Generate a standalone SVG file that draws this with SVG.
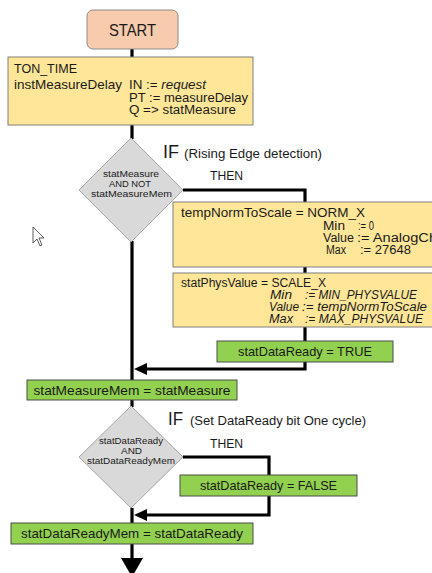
<svg xmlns="http://www.w3.org/2000/svg" width="432" height="573" viewBox="0 0 432 573">
<style>
text{font-family:"Liberation Sans",Arial,sans-serif;fill:#1a1a1a}
.t{font-size:13px}
.u{font-size:12px}
.s{font-size:8.5px}
.it{font-style:italic}
.y{fill:#FFE699;stroke:#7f7f7f;stroke-width:1}
.g{fill:#92D050;stroke:#4d4d4d;stroke-width:1}
.d{fill:#D9D9D9;stroke:#a6a6a6;stroke-width:1}
.ln{fill:none;stroke:#000;stroke-width:3.2}
</style>
<rect width="432" height="573" fill="#fff"/>
<g id="connectors">
<path class="ln" d="M132 49V58M132 125V139M132 241V381M132 400V407M132 508V524M132 544V560"/>
<path class="ln" d="M183 190H305V203M305 267V274M305 327V342M305 362V369H143"/>
<path class="ln" d="M183 457H269V476M269 496V515H143"/>
<polygon points="134,369 147,363 147,375" fill="#000"/>
<polygon points="134,515 147,509 147,521" fill="#000"/>
<polygon points="121,558 143,558 132,577" fill="#000"/>
</g>
<g id="start">
<rect x="87" y="10" width="91" height="39" rx="6" fill="#F8CBAD" stroke="#8c8c8c"/>
<text x="132.5" y="36" text-anchor="middle" font-size="17" textLength="47" lengthAdjust="spacingAndGlyphs">START</text>
</g>
<g id="ton">
<rect class="y" x="8" y="57" width="245" height="68"/>
<text class="t" x="14" y="73" textLength="63" lengthAdjust="spacingAndGlyphs">TON_TIME</text>
<text class="t" x="14" y="89" textLength="108" lengthAdjust="spacingAndGlyphs">instMeasureDelay</text>
<text class="t" x="129" y="89" textLength="77" lengthAdjust="spacingAndGlyphs">IN := <tspan class="it">request</tspan></text>
<text class="u" x="129" y="102" textLength="119" lengthAdjust="spacingAndGlyphs">PT := measureDelay</text>
<text class="u" x="129" y="114" textLength="107" lengthAdjust="spacingAndGlyphs">Q =&gt; statMeasure</text>
</g>
<g id="if1">
<polygon class="d" points="131,138 183,190 131,242 79,190"/>
<text class="s" x="131" y="177" text-anchor="middle" textLength="56" lengthAdjust="spacingAndGlyphs">statMeasure</text>
<text class="s" x="130" y="187" text-anchor="middle" textLength="42" lengthAdjust="spacingAndGlyphs">AND NOT</text>
<text class="s" x="131.5" y="197" text-anchor="middle" textLength="81" lengthAdjust="spacingAndGlyphs">statMeasureMem</text>
<text x="163" y="158" font-size="18" textLength="16" lengthAdjust="spacingAndGlyphs">IF</text>
<text x="184" y="158" font-size="12" textLength="138" lengthAdjust="spacingAndGlyphs">(Rising Edge detection)</text>
<text x="210" y="180" font-size="12" textLength="33" lengthAdjust="spacingAndGlyphs">THEN</text>
</g>
<g id="norm">
<rect class="y" x="173" y="202" width="270" height="65"/>
<text class="t" x="181" y="217" textLength="184" lengthAdjust="spacingAndGlyphs">tempNormToScale =  NORM_X</text>
<text class="u" x="323" y="230" textLength="22" lengthAdjust="spacingAndGlyphs">Min</text><text class="u" x="358" y="230" textLength="16" lengthAdjust="spacingAndGlyphs">:= 0</text>
<text class="u" x="323" y="242" textLength="31" lengthAdjust="spacingAndGlyphs">Value</text><text class="u" x="357" y="242" textLength="80" lengthAdjust="spacingAndGlyphs">:= AnalogCh</text>
<text class="u" x="326" y="254" textLength="20" lengthAdjust="spacingAndGlyphs">Max</text><text class="u" x="360" y="254" textLength="51" lengthAdjust="spacingAndGlyphs">:= 27648</text>
</g>
<g id="scale">
<rect class="y" x="173" y="273" width="270" height="54"/>
<text class="u" x="181" y="287" textLength="145" lengthAdjust="spacingAndGlyphs">statPhysValue  =  SCALE_X</text>
<text class="u it" x="270" y="299" textLength="22" lengthAdjust="spacingAndGlyphs">Min</text><text class="u it" x="305" y="299" textLength="112" lengthAdjust="spacingAndGlyphs">:= MIN_PHYSVALUE</text>
<text class="u it" x="269" y="311" textLength="30" lengthAdjust="spacingAndGlyphs">Value</text><text class="u it" x="302" y="311" textLength="125" lengthAdjust="spacingAndGlyphs">:= tempNormToScale</text>
<text class="u it" x="269" y="323" textLength="24" lengthAdjust="spacingAndGlyphs">Max</text><text class="u it" x="305" y="323" textLength="118" lengthAdjust="spacingAndGlyphs">:= MAX_PHYSVALUE</text>
</g>
<g id="ready-true">
<rect class="g" x="217" y="341" width="176" height="21"/>
<text class="t" x="305" y="356" text-anchor="middle" textLength="134" lengthAdjust="spacingAndGlyphs">statDataReady = TRUE</text>
</g>
<g id="mem">
<rect class="g" x="27" y="380" width="210" height="20"/>
<text class="t" x="132" y="395" text-anchor="middle" textLength="197" lengthAdjust="spacingAndGlyphs">statMeasureMem = statMeasure</text>
</g>
<g id="if2">
<polygon class="d" points="131,406 183,457 131,508 79,457"/>
<text class="s" x="131" y="444" text-anchor="middle" textLength="64" lengthAdjust="spacingAndGlyphs">statDataReady</text>
<text class="s" x="131.5" y="454" text-anchor="middle" textLength="21" lengthAdjust="spacingAndGlyphs">AND</text>
<text class="s" x="131" y="464" text-anchor="middle" textLength="88" lengthAdjust="spacingAndGlyphs">statDataReadyMem</text>
<text x="168" y="425" font-size="18" textLength="15" lengthAdjust="spacingAndGlyphs">IF</text>
<text x="190" y="425" font-size="12" textLength="176" lengthAdjust="spacingAndGlyphs">(Set DataReady bit One cycle)</text>
<text x="210" y="448" font-size="12" textLength="33" lengthAdjust="spacingAndGlyphs">THEN</text>
</g>
<g id="ready-false">
<rect class="g" x="180" y="475" width="177" height="21"/>
<text class="t" x="268.5" y="490" text-anchor="middle" textLength="137" lengthAdjust="spacingAndGlyphs">statDataReady = FALSE</text>
</g>
<g id="readymem">
<rect class="g" x="11" y="523" width="242" height="21"/>
<text class="t" x="132" y="538" text-anchor="middle" textLength="222" lengthAdjust="spacingAndGlyphs">statDataReadyMem = statDataReady</text>
</g>
<path d="M33 227V243L37 239L40 246L42 245L39 238L44 238Z" fill="#fff" stroke="#333" stroke-width="0.8"/>
</svg>
